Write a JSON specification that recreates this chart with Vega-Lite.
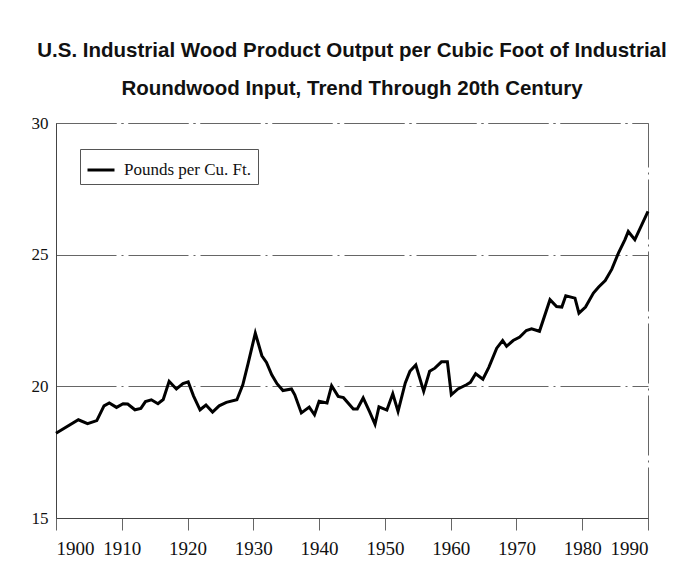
{
  "$schema": "https://vega.github.io/schema/vega-lite/v6.json",
  "autosize": {"type": "none"},
  "width": 592,
  "height": 395,
  "padding": {"left": 56, "top": 123, "right": 33, "bottom": 56},
  "background": "white",
  "title": {
    "text": ["U.S. Industrial Wood Product Output per Cubic Foot of Industrial", "Roundwood Input, Trend Through 20th Century"],
    "font": "Liberation Sans",
    "fontWeight": "bold",
    "fontSize": 20.5,
    "lineHeight": 38,
    "color": "#111",
    "anchor": "middle",
    "offset": 15
  },
  "config": {
    "view": {"stroke": "#666", "strokeWidth": 1, "strokeDash": [60, 5, 2, 5]}
  },
  "data": {
    "values": [
      {"year": 1900, "value": 18.22},
      {"year": 1903.4, "value": 18.73},
      {"year": 1904.8, "value": 18.58},
      {"year": 1906.2, "value": 18.7},
      {"year": 1907.3, "value": 19.26},
      {"year": 1908.1, "value": 19.37},
      {"year": 1909.2, "value": 19.2},
      {"year": 1910.2, "value": 19.34},
      {"year": 1910.9, "value": 19.33},
      {"year": 1912, "value": 19.11},
      {"year": 1912.9, "value": 19.16},
      {"year": 1913.6, "value": 19.42},
      {"year": 1914.5, "value": 19.49},
      {"year": 1915.5, "value": 19.34},
      {"year": 1916.3, "value": 19.5},
      {"year": 1917.2, "value": 20.19},
      {"year": 1918.3, "value": 19.9},
      {"year": 1919.3, "value": 20.1},
      {"year": 1920.1, "value": 20.17},
      {"year": 1920.9, "value": 19.64},
      {"year": 1921.9, "value": 19.11},
      {"year": 1922.8, "value": 19.29},
      {"year": 1923.8, "value": 19.02},
      {"year": 1924.8, "value": 19.26},
      {"year": 1925.9, "value": 19.39},
      {"year": 1927.5, "value": 19.49},
      {"year": 1928.4, "value": 20.06},
      {"year": 1929.2, "value": 20.86},
      {"year": 1930.3, "value": 22.02},
      {"year": 1931.3, "value": 21.16},
      {"year": 1932, "value": 20.91},
      {"year": 1932.8, "value": 20.44},
      {"year": 1933.6, "value": 20.1},
      {"year": 1934.5, "value": 19.84},
      {"year": 1935.8, "value": 19.9},
      {"year": 1936.3, "value": 19.68},
      {"year": 1937.3, "value": 18.99},
      {"year": 1938.5, "value": 19.21},
      {"year": 1939.3, "value": 18.92},
      {"year": 1940, "value": 19.43},
      {"year": 1941.2, "value": 19.37},
      {"year": 1941.9, "value": 20.02},
      {"year": 1942.9, "value": 19.62},
      {"year": 1943.7, "value": 19.57},
      {"year": 1945.2, "value": 19.14},
      {"year": 1945.8, "value": 19.14},
      {"year": 1946.7, "value": 19.56},
      {"year": 1947.7, "value": 19.02},
      {"year": 1948.5, "value": 18.56},
      {"year": 1949.1, "value": 19.22},
      {"year": 1950.3, "value": 19.1},
      {"year": 1951.2, "value": 19.72},
      {"year": 1952, "value": 19.05},
      {"year": 1953.1, "value": 20.13},
      {"year": 1953.8, "value": 20.57},
      {"year": 1954.7, "value": 20.81},
      {"year": 1955.9, "value": 19.81},
      {"year": 1956.8, "value": 20.57},
      {"year": 1957.6, "value": 20.69},
      {"year": 1958.6, "value": 20.93},
      {"year": 1959.5, "value": 20.93},
      {"year": 1960.1, "value": 19.68},
      {"year": 1961.1, "value": 19.9},
      {"year": 1962.4, "value": 20.06},
      {"year": 1963, "value": 20.15},
      {"year": 1963.8, "value": 20.48},
      {"year": 1964.9, "value": 20.27},
      {"year": 1965.8, "value": 20.72},
      {"year": 1967, "value": 21.45},
      {"year": 1967.9, "value": 21.74},
      {"year": 1968.5, "value": 21.52},
      {"year": 1969.5, "value": 21.74},
      {"year": 1970.5, "value": 21.87},
      {"year": 1971.5, "value": 22.12},
      {"year": 1972.3, "value": 22.18},
      {"year": 1973.5, "value": 22.09},
      {"year": 1975.1, "value": 23.29},
      {"year": 1976.1, "value": 23.03},
      {"year": 1976.9, "value": 23.01},
      {"year": 1977.5, "value": 23.44},
      {"year": 1978.9, "value": 23.35},
      {"year": 1979.5, "value": 22.78},
      {"year": 1980.5, "value": 23.01},
      {"year": 1981.7, "value": 23.54},
      {"year": 1982.5, "value": 23.77},
      {"year": 1983.5, "value": 24.02},
      {"year": 1984.5, "value": 24.45},
      {"year": 1985.5, "value": 25.06},
      {"year": 1986.5, "value": 25.57},
      {"year": 1987, "value": 25.88},
      {"year": 1988, "value": 25.57},
      {"year": 1990, "value": 26.64}
    ]
  },
  "mark": {"type": "line", "strokeWidth": 3, "strokeJoin": "miter", "color": "black"},
  "encoding": {
    "x": {
      "field": "year",
      "type": "quantitative",
      "scale": {"domain": [1900, 1990], "nice": false, "zero": false},
      "axis": {
        "title": null,
        "values": [1900, 1910, 1920, 1930, 1940, 1950, 1960, 1970, 1980, 1990],
        "format": "d",
        "grid": false,
        "domainColor": "#444",
        "tickColor": "#666",
        "tickSize": 12,
        "labelPadding": 9,
        "labelFont": "Liberation Serif",
        "labelFontSize": 19,
        "labelColor": "#111"
      }
    },
    "y": {
      "field": "value",
      "type": "quantitative",
      "scale": {"domain": [15, 30], "nice": false, "zero": false},
      "axis": {
        "title": null,
        "values": [15, 20, 25, 30],
        "grid": true,
        "gridColor": "#666",
        "gridDash": [60, 5, 2, 5],
        "domainColor": "#444",
        "ticks": false,
        "labelPadding": 8,
        "labelFont": "Liberation Serif",
        "labelFontSize": 17,
        "labelColor": "#111"
      }
    },
    "color": {
      "datum": "Pounds per Cu. Ft.",
      "scale": {"range": ["black"]},
      "legend": {
        "title": null,
        "orient": "none",
        "legendX": 24,
        "legendY": 26,
        "strokeColor": "#555",
        "padding": 6,
        "symbolType": "stroke",
        "symbolSize": 729,
        "symbolStrokeWidth": 3,
        "labelFont": "Liberation Serif",
        "labelFontSize": 17,
        "labelColor": "#111",
        "labelOffset": 8
      }
    }
  }
}
